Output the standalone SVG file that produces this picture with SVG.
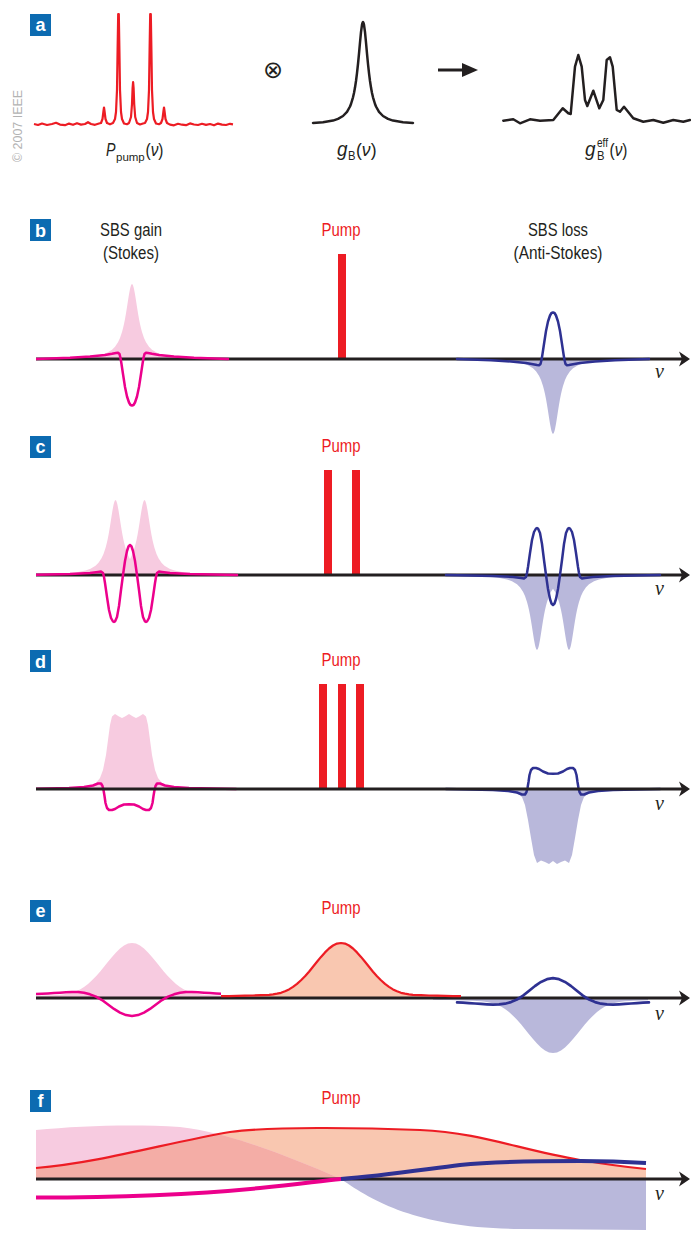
<svg xmlns="http://www.w3.org/2000/svg" xmlns:xlink="http://www.w3.org/1999/xlink" width="691" height="1234" viewBox="0 0 691 1234">
<style>
.lbl rect{fill:#0C6BB1}
.lbl text{fill:#fff;font-family:"Liberation Sans",Arial,sans-serif;font-weight:bold;font-size:18px;text-anchor:middle}
.t{font-family:"Liberation Sans",Arial,sans-serif;fill:#231F20}
.pump{font-family:"Liberation Sans",Arial,sans-serif;font-size:17.5px;fill:#ED1C24;text-anchor:middle}
.nu{font-family:"Liberation Serif","Times New Roman",serif;font-style:italic;font-size:20px;fill:#231F20}
.axis{stroke:#231F20;stroke-width:3;fill:none;marker-end:url(#ah)}
.pk{fill:#F7CBE0}
.lv{fill:#B9B8DB}
.or{fill:#F9C7B0}
.ov{fill:#F4ADA6}
.mg{fill:none;stroke:#EC008C;stroke-width:2.5;stroke-linejoin:round;stroke-linecap:round}
.bl{fill:none;stroke:#2E3192;stroke-width:2.5;stroke-linejoin:round;stroke-linecap:round}
.rd{fill:none;stroke:#ED1C24;stroke-width:2.2;stroke-linejoin:round}
.bk{fill:none;stroke:#231F20;stroke-width:2.5;stroke-linejoin:round;stroke-linecap:round}
.thick{stroke-width:4;stroke-linecap:butt}
.bar{fill:#ED1C24}
.ns{vector-effect:non-scaling-stroke}
</style>
<defs>
<marker id="ah" markerUnits="userSpaceOnUse" viewBox="-12 -8 13 16" markerWidth="13" markerHeight="16" refX="-6" refY="0" orient="auto" overflow="visible">
<path d="M0,0 L-11,-7.5 L-8,0 L-11,7.5 Z" fill="#231F20"/>
</marker>
<clipPath id="cl"><rect x="36" y="0" width="655" height="1234"/></clipPath>
<clipPath id="ce"><rect x="36" y="880" width="612" height="200"/></clipPath>
<clipPath id="cm"><rect x="36" y="880" width="185" height="200"/></clipPath>
<path id="lor" d="M-96,0 L-96,-0.5 L-80,-0.7 L-60,-1.2 L-50,-1.7 L-40,-2.6 L-30,-4.4 L-25,-6.2 L-20,-9.3 L-17,-12.2 L-14,-16.7 L-12,-21.1 L-10,-27 L-9,-30.7 L-8,-35.1 L-7,-40.1 L-6,-45.7 L-5,-51.9 L-4,-58.4 L-3,-64.7 L-2,-70 L-1.5,-72.1 Q0,-77.9 1.5,-72.1 L2,-70 L3,-64.7 L4,-58.4 L5,-51.9 L6,-45.7 L7,-40.1 L8,-35.1 L9,-30.7 L10,-27 L12,-21.1 L14,-16.7 L17,-12.2 L20,-9.3 L25,-6.2 L30,-4.4 L40,-2.6 L50,-1.7 L60,-1.2 L80,-0.7 L96,-0.5 L96,0 Z"/>
<path id="gA" d="M-120,0 L-120,-1.8 L-112,-1.9 L-104,-2.1 L-96,-2.3 L-88,-2.5 L-80,-2.8 L-72,-3.2 L-68,-3.7 L-64,-4.4 L-60,-5.2 L-56,-6.7 L-52,-8.6 L-48,-11.1 L-44,-14.1 L-40,-17.7 L-36,-21.7 L-32,-26.3 L-28,-31.2 L-24,-36.2 L-20,-41.1 L-16,-45.6 L-12,-49.5 L-8,-52.5 L-4,-54.4 L0,-55 L4,-54.4 L8,-52.5 L12,-49.5 L16,-45.6 L20,-41.1 L24,-36.2 L28,-31.2 L32,-26.3 L36,-21.7 L40,-17.7 L44,-14.1 L48,-11.1 L52,-8.6 L56,-6.7 L60,-5.2 L64,-4.4 L68,-3.7 L72,-3.2 L80,-2.8 L88,-2.5 L96,-2.3 L104,-2.1 L112,-1.9 L120,-1.8 L120,0 Z"/>
<path id="gL" d="M-120,-1.8 L-112,-1.9 L-104,-2.1 L-96,-2.3 L-88,-2.5 L-80,-2.8 L-72,-3.2 L-68,-3.7 L-64,-4.4 L-60,-5.2 L-56,-6.7 L-52,-8.6 L-48,-11.1 L-44,-14.1 L-40,-17.7 L-36,-21.7 L-32,-26.3 L-28,-31.2 L-24,-36.2 L-20,-41.1 L-16,-45.6 L-12,-49.5 L-8,-52.5 L-4,-54.4 L0,-55 L4,-54.4 L8,-52.5 L12,-49.5 L16,-45.6 L20,-41.1 L24,-36.2 L28,-31.2 L32,-26.3 L36,-21.7 L40,-17.7 L44,-14.1 L48,-11.1 L52,-8.6 L56,-6.7 L60,-5.2 L64,-4.4 L68,-3.7 L72,-3.2 L80,-2.8 L88,-2.5 L96,-2.3 L104,-2.1 L112,-1.9 L120,-1.8"/>
<path id="rB" d="M-96,0 L-62,-1.2 L-42,-2.5 L-27,-4 L-20,-5.2 L-16,-6 L-14,-6.3 L-12.5,-5 L-11.5,-1 L-10.5,5 L-9,15 L-7,28 L-5,37.5 L-3,43.5 L-1.5,46 L0,46.5 L1.5,46 L3,43.5 L5,37.5 L7,28 L9,15 L10.5,5 L11.5,-1 L12.5,-5 L14,-6.3 L16,-6 L20,-5.2 L27,-4 L42,-2.5 L62,-1.2 L96,0"/>
<path id="rC" d="M-107,0 L-60,-1 L-40,-2 L-32,-3 L-29,-3.4 L-27,-2 L-26,2 L-25,8 L-23,22 L-21,35 L-19,43 L-17,46.5 L-16,47 L-15,46.5 L-13,42 L-11,31 L-9,15 L-7,0 L-5,-14 L-3,-24 L-1.5,-28.5 L0,-30 L1.5,-28.5 L3,-24 L5,-14 L7,0 L9,15 L11,31 L13,42 L15,46.5 L16,47 L17,46.5 L19,43 L21,35 L23,22 L25,8 L26,2 L27,-2 L29,-3.4 L32,-3 L40,-2 L60,-1 L107,0"/>
<path id="rD" d="M-107,0 L-60,-1 L-45,-2 L-36,-3.5 L-31,-5.5 L-28,-5.5 L-26.5,-3 L-25.5,1 L-24.5,7 L-23.5,14 L-22,19 L-20,21 L-17,21 L-14,20 L-10,17.5 L-5,15.5 L0,15.2 L5,15.5 L10,17.5 L14,20 L17,21 L20,21 L22,19 L23.5,14 L24.5,7 L25.5,1 L26.5,-3 L28,-5.5 L31,-5.5 L36,-3.5 L45,-2 L60,-1 L107,0"/>
<path id="rE" d="M-96,-4 L-90,-4.3 L-84,-4.6 L-78,-5 L-72,-5.3 L-66,-5.7 L-60,-6 L-54,-5.9 L-48,-5.2 L-42,-3.7 L-36,-1.4 L-30,2.1 L-24,6.5 L-18,10.9 L-12,14.6 L-6,17.1 L0,18 L6,17.1 L12,14.6 L18,10.9 L24,6.5 L30,2.1 L36,-1.4 L42,-3.7 L48,-5.2 L54,-5.9 L60,-6 L66,-5.7 L72,-5.3 L78,-5 L84,-4.6 L90,-4.3 L96,-4"/>
<path id="fOr" d="M36,1168 C100,1163 170,1142 230,1132 C270,1126.5 360,1127.5 420,1130 C480,1132.5 520,1150 580,1160 C610,1165 630,1167.5 646,1169 L646,1179 L36,1179 Z"/>
<path id="fPk" d="M36,1179 L36,1130 C80,1126 130,1124 180,1127 C230,1133 285,1155 341,1179 Z"/>
<clipPath id="clipOr"><use xlink:href="#fOr"/></clipPath>
</defs>
<rect width="691" height="1234" fill="#fff"/>

<g id="panel-a">
<g class="lbl"><rect x="30" y="14" width="21" height="22"/><text x="40.5" y="31">a</text></g>
<text transform="translate(22,126) rotate(-90)" font-family="'Liberation Sans',Arial,sans-serif" font-size="13" fill="#B3B3B3" text-anchor="middle" textLength="72" lengthAdjust="spacingAndGlyphs">© 2007 IEEE</text>
<path class="rd" d="M34,124 L38,125 L42,123.5 L47,125 L52,124 L56,122.8 L60,124.6 L65,125.2 L69,123.6 L73,124.8 L77,123.2 L81,124.6 L85,124 L88,122.2 L91,124 L95,124.8 L99,123.5 L101,123 L102.5,119 L103.5,111 L104,107.5 L104.5,111 L105.5,119 L107,123 L110,124.3 L113,123 L115,119 L116,112 L117,90 L117.6,50 L118.2,14 L118.8,14 L119.4,50 L120,90 L121,112 L122,119 L124,123.5 L127,124.2 L129,123 L131,117 L132,104 L132.6,88 L133.1,82 L133.6,88 L134.2,104 L135.2,117 L137,123 L140,124.5 L143,123.5 L145,123 L147,119 L148,112 L149,90 L149.6,50 L150.2,14 L150.8,14 L151.4,50 L152,90 L153,112 L154,119 L156,123.5 L159,124.2 L161,123 L162.5,119 L163.5,111 L164,107.5 L164.5,111 L165.5,119 L167,123 L170,124.6 L174,125.3 L178,123.8 L182,124.7 L186,125.2 L190,123.4 L194,124.5 L198,125 L202,123.8 L206,124.9 L210,124 L214,125.3 L218,123.6 L222,124.6 L226,125 L230,123.8 L233,124.3"/>
<text class="t" x="106" y="156" font-size="18" font-style="italic" textLength="9.5" lengthAdjust="spacingAndGlyphs">P</text>
<text class="t" x="116" y="160.5" font-size="11.5">pump</text>
<text class="t" x="145.5" y="156" font-size="18" textLength="18" lengthAdjust="spacingAndGlyphs">(<tspan font-style="italic">ν</tspan>)</text>
<text x="273" y="77.5" font-family="'DejaVu Sans',sans-serif" font-size="24" fill="#231F20" text-anchor="middle">⊗</text>
<path class="bk" d="M313,123 L323,122.3 L333,120.6 L338,118.9 L343,116 L347,111.9 L350,106.5 L351,104 L353,97.3 L354,93 L355,87.6 L356,81 L357,73.2 L358,64 L359,53.6 L360,42.5 L361,32.2 L362,24.8 Q363,19.2 364,24.8 L365,32.2 L366,42.5 L367,53.6 L368,64 L369,73.2 L370,81 L371,87.6 L372,93 L373,97.3 L375,104 L376,106.5 L379,111.9 L383,116 L388,118.9 L393,120.6 L403,122.3 L413,123"/>
<text class="t" x="337" y="156" font-size="20" font-style="italic" textLength="10.5" lengthAdjust="spacingAndGlyphs">g</text>
<text class="t" x="348" y="160" font-size="13.5" textLength="7.5" lengthAdjust="spacingAndGlyphs">B</text>
<text class="t" x="356" y="156" font-size="18" textLength="20.5" lengthAdjust="spacingAndGlyphs">(<tspan font-style="italic">ν</tspan>)</text>
<path class="bk" d="M503.3,120.7 L513.3,119.3 L520,123.3 L530,119.3 L540,120.7 L553.3,120 L562.7,108.3 L568.3,113.3 L570.7,114 L575,66.7 L578.3,55 L581.7,66.7 L585,100 L587.3,106 L593.3,90.7 L599.3,108.3 L603.3,100 L606.7,60 L610,57.3 L612.7,66.7 L616.7,110 L620,111.7 L624,106.7 L633.3,118.3 L643.3,121.7 L653.3,120 L663.3,122.7 L673.3,120 L683.3,121.7 L690,120"/>
<text class="t" x="585" y="156" font-size="20" font-style="italic" textLength="10.5" lengthAdjust="spacingAndGlyphs">g</text>
<text class="t" x="597" y="146.5" font-size="12" textLength="11" lengthAdjust="spacingAndGlyphs">eff</text>
<text class="t" x="597" y="160" font-size="13.5" textLength="7.5" lengthAdjust="spacingAndGlyphs">B</text>
<text class="t" x="609.5" y="156" font-size="18" textLength="18" lengthAdjust="spacingAndGlyphs">(<tspan font-style="italic">ν</tspan>)</text>
</g>

<g id="connectors">
<line x1="438" y1="70" x2="465" y2="70" stroke="#231F20" stroke-width="3"/>
<polygon points="462,63 478,70 462,77" fill="#231F20"/>
</g>

<g id="panel-b">
<g class="lbl"><rect x="30" y="219" width="21" height="22"/><text x="40.5" y="237">b</text></g>
<text class="t" x="131" y="236" font-size="17.5" text-anchor="middle" textLength="62" lengthAdjust="spacingAndGlyphs">SBS gain</text>
<text class="t" x="131" y="259" font-size="17.5" text-anchor="middle" textLength="56" lengthAdjust="spacingAndGlyphs">(Stokes)</text>
<text class="pump" x="341" y="236" textLength="39" lengthAdjust="spacingAndGlyphs">Pump</text>
<text class="t" x="558" y="236" font-size="17.5" text-anchor="middle" textLength="60" lengthAdjust="spacingAndGlyphs">SBS loss</text>
<text class="t" x="558" y="259" font-size="17.5" text-anchor="middle" textLength="89" lengthAdjust="spacingAndGlyphs">(Anti-Stokes)</text>
<g clip-path="url(#cl)">
<use xlink:href="#lor" class="pk" transform="translate(132,359)"/>
<use xlink:href="#lor" class="lv" transform="translate(553,359) scale(1,-1)"/>
</g>
<rect class="bar" x="338" y="254" width="8" height="105"/>
<line class="axis" x1="36" y1="359" x2="684" y2="359"/>
<g clip-path="url(#cl)">
<use xlink:href="#rB" class="mg" transform="translate(132,359)"/>
<use xlink:href="#rB" class="bl" transform="translate(553,359) scale(1,-1)"/>
</g>
<text class="nu" x="655" y="378">ν</text>
</g>

<g id="panel-c">
<g class="lbl"><rect x="30" y="436" width="21" height="22"/><text x="40.5" y="453">c</text></g>
<text class="pump" x="341" y="452" textLength="39" lengthAdjust="spacingAndGlyphs">Pump</text>
<g clip-path="url(#cl)">
<use xlink:href="#lor" class="pk" transform="translate(115.5,575)"/>
<use xlink:href="#lor" class="pk" transform="translate(144.5,575)"/>
<use xlink:href="#lor" class="lv" transform="translate(537,575) scale(1,-1)"/>
<use xlink:href="#lor" class="lv" transform="translate(569,575) scale(1,-1)"/>
</g>
<rect class="bar" x="324" y="470" width="8" height="105"/>
<rect class="bar" x="352" y="470" width="8" height="105"/>
<line class="axis" x1="36" y1="575" x2="684" y2="575"/>
<g clip-path="url(#cl)">
<use xlink:href="#rC" class="mg" transform="translate(130,575)"/>
<use xlink:href="#rC" class="bl" transform="translate(553,575) scale(1,-1)"/>
</g>
<text class="nu" x="655" y="595">ν</text>
</g>

<g id="panel-d">
<g class="lbl"><rect x="30" y="650" width="21" height="22"/><text x="40.5" y="668">d</text></g>
<text class="pump" x="341" y="666" textLength="39" lengthAdjust="spacingAndGlyphs">Pump</text>
<path class="pk" d="M36,789 L60,788.5 L80,787.5 L90,786 L96,783 L100,778 L103,770 L106,755 L108,740 L110,725 L112,716.5 L115,714 L119,716.5 L122,718 L125,716.5 L129,714 L133,716.5 L136,718 L139,716.5 L143,714 L146,716.5 L148,725 L150,740 L152,755 L155,770 L158,778 L162,783 L168,786 L180,787.5 L200,788.5 L237,789 Z"/>
<path class="lv" d="M446,789 L490,789.5 L505,790.5 L513,792 L518,794 L522,797 L525,805 L528,820 L531,838 L534,855 L537,863 L541,860.5 L545,862 L549,864 L553,861 L557,864 L561,862 L565,860.5 L569,863 L572,855 L575,838 L578,820 L581,805 L584,797 L588,794 L593,792 L601,790.5 L616,789.5 L660,789 Z"/>
<rect class="bar" x="319" y="684" width="8" height="105"/>
<rect class="bar" x="338" y="684" width="8" height="105"/>
<rect class="bar" x="356" y="684" width="8" height="105"/>
<g clip-path="url(#cl)">
<use xlink:href="#rD" class="mg" transform="translate(129,789)"/>
<use xlink:href="#rD" class="bl" transform="translate(553,789) scale(1,-1)"/>
</g>
<line class="axis" x1="36" y1="789" x2="684" y2="789"/>
<text class="nu" x="655" y="810">ν</text>
</g>

<g id="panel-e">
<g class="lbl"><rect x="30" y="900" width="21" height="22"/><text x="40.5" y="917">e</text></g>
<text class="pump" x="341" y="914" textLength="39" lengthAdjust="spacingAndGlyphs">Pump</text>
<g clip-path="url(#ce)">
<use xlink:href="#gA" class="pk" transform="translate(132,998)"/>
<use xlink:href="#gA" class="or" transform="translate(341,998)"/>
<use xlink:href="#gA" class="lv" transform="translate(553,998) scale(1,-1)"/>
</g>
<line class="axis" x1="36" y1="998" x2="684" y2="998"/>
<g clip-path="url(#cm)">
<use xlink:href="#rE" class="mg" transform="translate(132,998)"/>
</g>
<g clip-path="url(#cl)">
<use xlink:href="#gL" class="rd" transform="translate(341,998)"/>
<use xlink:href="#rE" class="bl ns" transform="translate(553,998) scale(1,-1.1)"/>
</g>
<text class="nu" x="655" y="1020">ν</text>
</g>

<g id="panel-f">
<g class="lbl"><rect x="30" y="1090" width="21" height="22"/><text x="40.5" y="1107">f</text></g>
<text class="pump" x="341" y="1104" textLength="39" lengthAdjust="spacingAndGlyphs">Pump</text>
<use xlink:href="#fOr" class="or"/>
<use xlink:href="#fPk" class="pk"/>
<use xlink:href="#fPk" class="ov" clip-path="url(#clipOr)"/>
<path class="lv" d="M341,1179 C375,1203 420,1228 520,1229 L646,1230 L646,1179 Z"/>
<line class="axis" x1="36" y1="1179" x2="684" y2="1179"/>
<path class="rd" d="M36,1168 C100,1163 170,1142 230,1132 C270,1126.5 360,1127.5 420,1130 C480,1132.5 520,1150 580,1160 C610,1165 630,1167.5 646,1169"/>
<path class="mg thick" d="M36,1197.5 C120,1197.5 200,1194 260,1188 C300,1184 320,1181 341,1179"/>
<path class="bl thick" d="M341,1179 C380,1176 420,1170 460,1165 C500,1161 540,1161 580,1161 C610,1161 630,1162 646,1163"/>
<text class="nu" x="655" y="1200">ν</text>
</g>
</svg>
